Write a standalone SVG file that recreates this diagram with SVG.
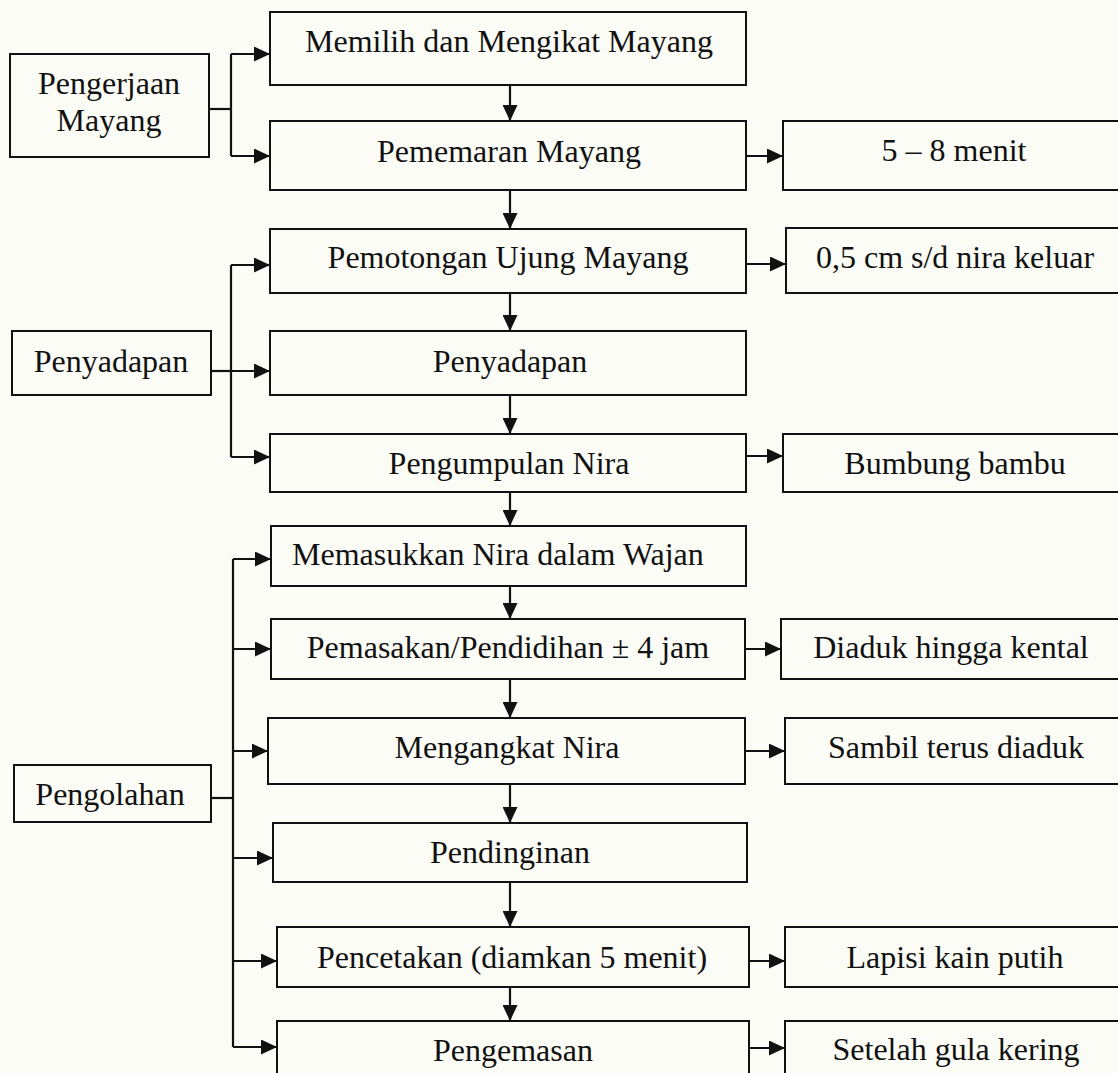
<svg xmlns="http://www.w3.org/2000/svg" width="1118" height="1073" viewBox="0 0 1118 1073">
<style>
.box{fill:none;stroke:#111;stroke-width:2}
.t{font-family:"Liberation Serif","Times New Roman",serif;font-size:32px;fill:#111;text-anchor:middle}
.ts{font-family:"Liberation Serif","Times New Roman",serif;font-size:32px;fill:#111}
.c{fill:none;stroke:#111;stroke-width:2.2}
</style>
<defs>
<marker id="ah" markerWidth="16" markerHeight="15" refX="16" refY="7.5" orient="auto" markerUnits="userSpaceOnUse">
<path d="M0,0 L16,7.5 L0,15 z" fill="#111"/>
</marker>
</defs>
<rect x="0" y="0" width="1118" height="1073" fill="#fcfcf7"/>

<g id="connectors">
<!-- Pengerjaan group -->
<path class="c" d="M209,109 H231"/>
<path class="c" d="M231,54 V156"/>
<path class="c" d="M231,54 H270" marker-end="url(#ah)"/>
<path class="c" d="M231,156 H270" marker-end="url(#ah)"/>
<!-- Penyadapan group -->
<path class="c" d="M211,371 H231"/>
<path class="c" d="M231,265 V457"/>
<path class="c" d="M231,265 H270" marker-end="url(#ah)"/>
<path class="c" d="M231,371 H270" marker-end="url(#ah)"/>
<path class="c" d="M231,457 H270" marker-end="url(#ah)"/>
<!-- Pengolahan group -->
<path class="c" d="M211,798 H233"/>
<path class="c" d="M233,559 V1047"/>
<path class="c" d="M233,559 H271" marker-end="url(#ah)"/>
<path class="c" d="M233,649 H271" marker-end="url(#ah)"/>
<path class="c" d="M233,751 H268" marker-end="url(#ah)"/>
<path class="c" d="M233,858 H273" marker-end="url(#ah)"/>
<path class="c" d="M233,961 H277" marker-end="url(#ah)"/>
<path class="c" d="M233,1047 H277" marker-end="url(#ah)"/>
<!-- main column down arrows -->
<path class="c" d="M510,85 V121" marker-end="url(#ah)"/>
<path class="c" d="M510,190 V229" marker-end="url(#ah)"/>
<path class="c" d="M510,293 V331" marker-end="url(#ah)"/>
<path class="c" d="M510,395 V434" marker-end="url(#ah)"/>
<path class="c" d="M510,492 V526" marker-end="url(#ah)"/>
<path class="c" d="M510,586 V619" marker-end="url(#ah)"/>
<path class="c" d="M510,679 V718" marker-end="url(#ah)"/>
<path class="c" d="M510,784 V823" marker-end="url(#ah)"/>
<path class="c" d="M510,882 V927" marker-end="url(#ah)"/>
<path class="c" d="M510,987 V1021" marker-end="url(#ah)"/>
<!-- side arrows -->
<path class="c" d="M746,156 H783" marker-end="url(#ah)"/>
<path class="c" d="M746,264 H786" marker-end="url(#ah)"/>
<path class="c" d="M746,456 H783" marker-end="url(#ah)"/>
<path class="c" d="M745,649 H781" marker-end="url(#ah)"/>
<path class="c" d="M745,751 H785" marker-end="url(#ah)"/>
<path class="c" d="M749,961 H785" marker-end="url(#ah)"/>
<path class="c" d="M749,1048 H785" marker-end="url(#ah)"/>
</g>

<g id="n-pengerjaan"><rect class="box" x="10" y="54" width="199" height="103"/><text class="t" x="109" y="94">Pengerjaan</text><text class="t" x="109" y="131">Mayang</text></g>
<g id="n-penyadapan-group"><rect class="box" x="12" y="331" width="199" height="64"/><text class="t" x="111" y="372">Penyadapan</text></g>
<g id="n-pengolahan"><rect class="box" x="14" y="765" width="197" height="57"/><text class="t" x="110" y="805">Pengolahan</text></g>

<g id="n-memilih"><rect class="box" x="270" y="12" width="476" height="73"/><text class="t" x="509" y="52">Memilih dan Mengikat Mayang</text></g>
<g id="n-pememaran"><rect class="box" x="270" y="121" width="476" height="69"/><text class="t" x="509" y="162">Pememaran Mayang</text></g>
<g id="n-pemotongan"><rect class="box" x="270" y="229" width="476" height="64"/><text class="t" x="508" y="268">Pemotongan Ujung Mayang</text></g>
<g id="n-penyadapan"><rect class="box" x="270" y="331" width="476" height="64"/><text class="t" x="510" y="372">Penyadapan</text></g>
<g id="n-pengumpulan"><rect class="box" x="270" y="434" width="476" height="58"/><text class="t" x="509" y="474">Pengumpulan Nira</text></g>
<g id="n-memasukkan"><rect class="box" x="271" y="526" width="475" height="60"/><text class="ts" x="292" y="565">Memasukkan Nira dalam Wajan</text></g>
<g id="n-pemasakan"><rect class="box" x="271" y="619" width="474" height="60"/><text class="t" x="508" y="658">Pemasakan/Pendidihan ± 4 jam</text></g>
<g id="n-mengangkat"><rect class="box" x="268" y="718" width="477" height="66"/><text class="t" x="507" y="758">Mengangkat Nira</text></g>
<g id="n-pendinginan"><rect class="box" x="273" y="823" width="474" height="59"/><text class="t" x="510" y="863">Pendinginan</text></g>
<g id="n-pencetakan"><rect class="box" x="277" y="927" width="472" height="60"/><text class="t" x="512" y="968">Pencetakan (diamkan 5 menit)</text></g>
<g id="n-pengemasan"><rect class="box" x="277" y="1021" width="472" height="62"/><text class="t" x="513" y="1061">Pengemasan</text></g>

<g id="n-menit"><rect class="box" x="783" y="121" width="343" height="69"/><text class="t" x="954" y="161">5 – 8 menit</text></g>
<g id="n-keluar"><rect class="box" x="786" y="228" width="340" height="65"/><text class="t" x="955" y="268">0,5 cm s/d nira keluar</text></g>
<g id="n-bumbung"><rect class="box" x="783" y="434" width="343" height="58"/><text class="t" x="955" y="474">Bumbung bambu</text></g>
<g id="n-diaduk"><rect class="box" x="781" y="619" width="345" height="60"/><text class="t" x="951" y="658">Diaduk hingga kental</text></g>
<g id="n-sambil"><rect class="box" x="785" y="718" width="341" height="66"/><text class="t" x="956" y="758">Sambil terus diaduk</text></g>
<g id="n-lapisi"><rect class="box" x="785" y="927" width="341" height="60"/><text class="t" x="955" y="968">Lapisi kain putih</text></g>
<g id="n-setelah"><rect class="box" x="785" y="1021" width="341" height="62"/><text class="t" x="956" y="1060">Setelah gula kering</text></g>
</svg>
